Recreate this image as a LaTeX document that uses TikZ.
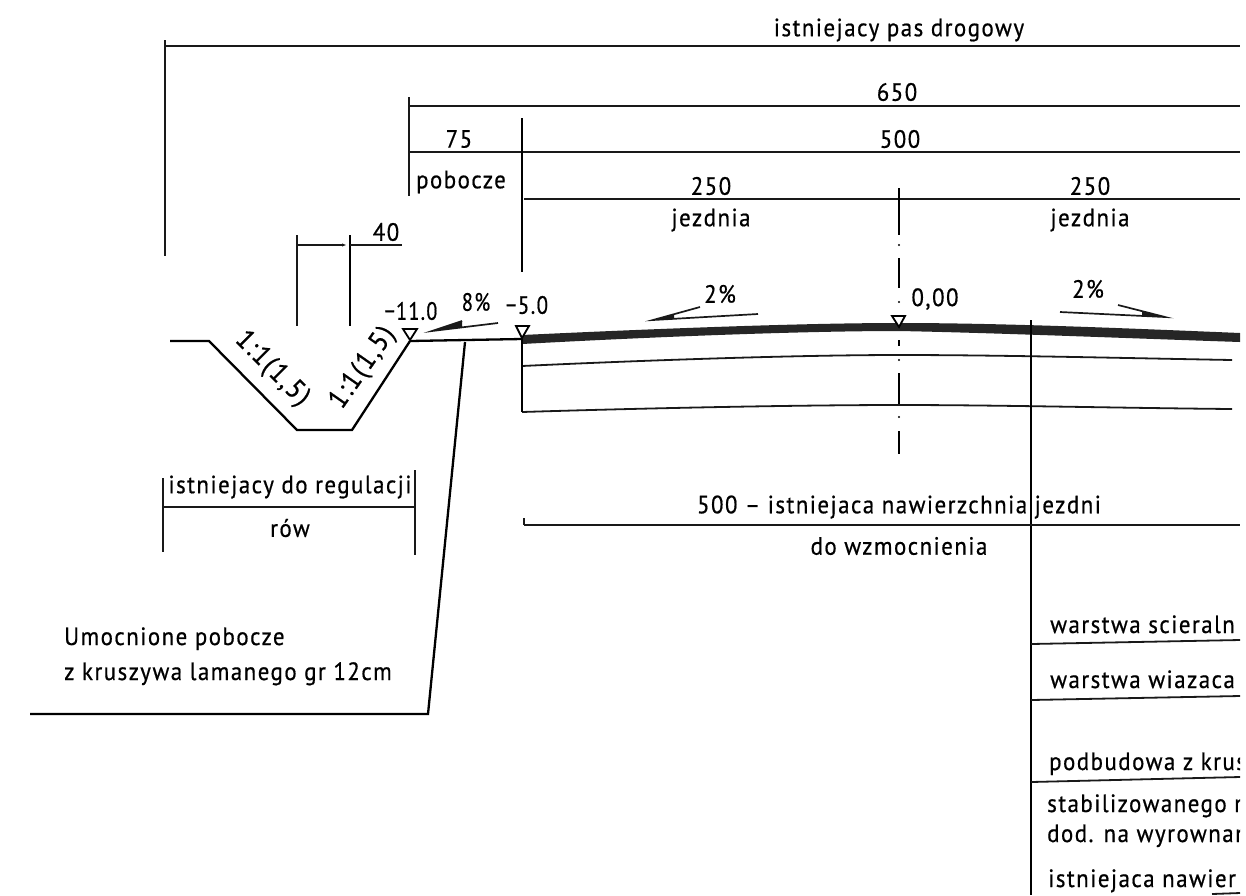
\documentclass[tikz,border=0pt]{standalone}
\usepackage{fontspec}
\usetikzlibrary{arrows.meta}
\setmainfont{PT Sans}[LetterSpace=6,FakeStretch=0.915,FakeBold=0.6]
\tikzset{
  lab/.style={inner sep=0pt,font=\fontsize{25}{27}\selectfont},
  labb/.style={lab,anchor=base west},
  labr/.style={inner sep=0pt,font=\fontsize{28}{30}\selectfont},
  thin line/.style={line width=1.8pt,draw=black!90},
  med line/.style={line width=2.3pt,draw=black},
  level mark/.style={line width=1.8pt,draw=black,fill=white},
  slope mark/.style={line width=1.7pt,draw=black!90,line join=miter},
  slope tip/.style={fill=black!90}
}
\begin{document}
\begin{tikzpicture}[x=1pt,y=-1pt]
\useasboundingbox (0,0) rectangle (1246,895);
% named points
\coordinate (gl) at (170,341);
\coordinate (ga) at (209,341);
\coordinate (gb) at (297,430);
\coordinate (gc) at (352,430);
\coordinate (gd) at (410,341);
\coordinate (e5) at (522,339);
\coordinate (ll1) at (522,366);
\coordinate (ll2) at (522,412);
% top dimensions
\draw[thin line] (165,40) -- (165,256);
\draw[thin line] (165,46) -- (1240,46);
\node[lab] (pas) at (899,30) {istniejacy pas drogowy};
\draw[thin line] (409,97) -- (409,196);
\draw[thin line] (409,106) -- (1240,106);
\node[lab] (n650) at (897,92) {650};
\draw[thin line] (409,152) -- (1240,152);
\node[lab] (n75) at (459,139) {75};
\node[lab] (n500) at (900,139) {500};
\node[lab] (pob) at (461,182) {pobocze};
\draw[med line] (522,118) -- (522,272);
\draw[thin line] (524,199) -- (1240,199);
\node[lab] (n250a) at (711,186) {250};
\node[lab] (n250b) at (1090,186) {250};
\node[lab] (jza) at (711,220) {jezdnia};
\node[lab] (jzb) at (1090,220) {jezdnia};
% centre line
\foreach \a/\b in {188/235,258/288,340/346,373/405,431/454}
  \draw[med line] (899,\a) -- (899,\b);
\foreach \a in {245,302,360,417}
  \fill (899,\a) circle (1.2pt);
% ditch
\draw[med line] (gl) -- (ga) -- (gb) -- (gc) -- (gd);
\draw[thin line] (297,235) -- (297,326);
\draw[med line] (350,235) -- (350,326);
\draw[thin line,-{Latex[length=7pt,width=3pt]}] (298,245) -- (349,245);
\draw[thin line] (350,245) -- (402,245);
\node[lab] (n40) at (386,232) {40};
\node[labr,rotate=-45] (sl) at (272,369) {1:1(1,5)};
\node[labr,rotate=55] (sr) at (363,368) {1:1(1,5)};
% road body
\draw[med line] (gd) -- (e5);
\fill[black!85] (522,335) .. controls (650,329) and (800,323) .. (899,323)
  .. controls (1000,323) and (1120,328) .. (1240,333) -- (1240,342)
  .. controls (1120,338) and (1000,333) .. (899,331)
  .. controls (800,331) and (650,337) .. (522,344) -- cycle;
\draw[thin line] (ll1) .. controls (650,360) and (800,355) .. (899,355)
  .. controls (1000,355) and (1120,358) .. (1232,360);
\draw[thin line] (ll2) .. controls (650,408) and (800,405) .. (899,405)
  .. controls (1000,405) and (1120,408) .. (1232,409);
\draw[med line] (e5) -- (ll2);
\draw[line width=2.6pt] (1031,320) -- (1031,895);
% level marks
\draw[level mark] (403,329) -- (417,329) -- (410,340) -- cycle;
\draw[level mark] (516,326) -- (529,326) -- (522,338) -- cycle;
\draw[level mark] (892,316) -- (905,316) -- (899,327) -- cycle;
\node[lab,xscale=.88] (l11) at (411,311) {−11.0};
\node[lab,xscale=.92] (l5) at (527,305) {−5.0};
\node[lab] (l0) at (935,299) {0,00};
% slopes
\draw[slope mark] (498,323) -- (432,331) -- (462,321);
\fill[slope tip] (432,331) -- (462,321) -- (462,327.5) -- cycle;
\node[lab,xscale=.9] (p8) at (476,302) {8\%};
\draw[slope mark] (758,314) -- (653,320) -- (700,307);
\fill[slope tip] (653,320) -- (674,314) -- (674,319) -- cycle;
\node[lab] (p2a) at (720,294) {2\%};
\draw[slope mark] (1060,312) -- (1165,317) -- (1118,305);
\fill[slope tip] (1165,317) -- (1142,311) -- (1142,316) -- cycle;
\node[lab] (p2b) at (1088,289) {2\%};
% ditch dimension
\draw[thin line] (163,478) -- (163,552);
\draw[thin line] (415,470) -- (415,555);
\draw[thin line] (163,507) -- (415,507);
\node[lab] (reg) at (290,487) {istniejacy do regulacji};
\node[lab] (rw) at (290,528) {rów};
% surface dimension
\draw[thin line] (524,525) -- (1240,525);
\draw[thin line] (524,518) -- (524,525);
\node[lab] (nw) at (899,507) {500 – istniejaca nawierzchnia jezdni};
\node[lab] (dw) at (899,546) {do wzmocnienia};
% leader
\coordinate (la) at (465,342);
\coordinate (lb) at (428,714);
\coordinate (lc) at (30,714);
\draw[med line] (la) -- (lb) -- (lc);
\node[labb] (um1) at (64,645) {Umocnione pobocze};
\node[labb] (um2) at (64,680) {z kruszywa lamanego gr 12cm};
% layer table
\draw[thin line] (1031,644) -- (1240,640);
\draw[thin line] (1031,700) -- (1240,696);
\draw[thin line] (1031,782) -- (1240,777);
\draw[thin line] (1212,894) -- (1240,893);
\begin{scope}
\clip (1035,600) rectangle (1240,895);
\node[labb] (t1) at (1050,633) {warstwa scieraln};
\node[labb] (t2) at (1050,688) {warstwa wiazaca};
\node[labb] (t3) at (1049,770) {podbudowa z krus};
\node[labb] (t4) at (1047,812) {stabilizowanego m};
\node[labb] (t5) at (1047,842) {dod. na wyrownan};
\node[labb] (t6) at (1048,887) {istniejaca nawier};
\end{scope}
\end{tikzpicture}
\end{document}
